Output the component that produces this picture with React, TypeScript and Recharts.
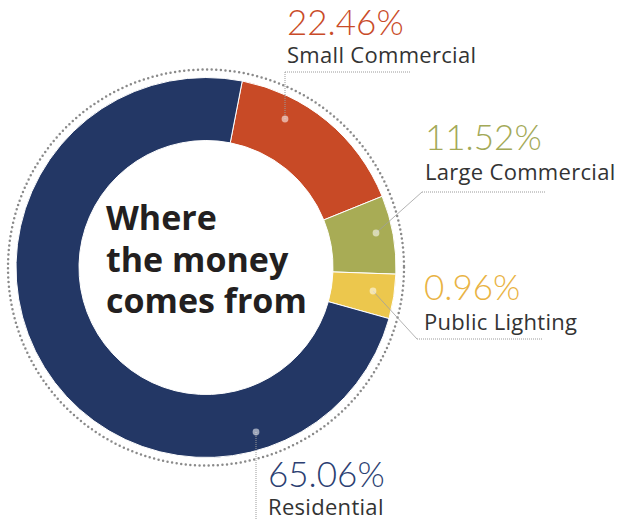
import { PieChart, Pie, Cell, Customized } from "recharts";

// revenue split as printed on the graphic
const segments = ["Small Commercial", "Large Commercial", "Public Lighting", "Residential"];
const printedShare = [22.46, 11.52, 0.96, 65.06];
// arc sizes as drawn (degrees) - the original graphic is not drawn to scale
const drawnArc = [57, 24, 13.6, 265.4];

const sliceColors = ["#C84A26", "#A8AC55", "#ECC74D", "#233765"];
const labelColors = ["#C94B28", "#A3A957", "#E9B343", "#2C3F72"];
const titleLines = ["Where", "the money", "comes from"];

const CX = 206;
const CY = 267.5;

const data = segments.map((name, i) => ({ name, share: printedShare[i], arc: drawnArc[i] }));

// label placement relative to the pie centre
type Leader = {
  dot: [number, number];
  path: [number, number][];
  dashed: boolean[];
  textX: number;
  pctY: number;
  nameY: number;
};

const leaders: Leader[] = [
  { dot: [79, -148.5], path: [[79, -148.5], [79, -195.5], [205, -195.5]], dashed: [true, true], textX: 81, pctY: -232.5, nameY: -204.5 },
  { dot: [170, -34.5], path: [[170, -34.5], [216, -75.5], [339, -75.5]], dashed: [false, true], textX: 219, pctY: -117.5, nameY: -87.5 },
  { dot: [167, 23.5], path: [[167, 23.5], [211, 71.5], [336, 71.5]], dashed: [false, true], textX: 218, pctY: 32.5, nameY: 62.5 },
  { dot: [50, 164.5], path: [[50, 164.5], [50, 262]], dashed: [true], textX: 62, pctY: 219.5, nameY: 247 },
];

function SliceLabel(props: any) {
  const { cx, cy, index } = props;
  const l = leaders[index];
  if (!l) return null;
  return (
    <g>
      {l.path.slice(1).map((p, k) => {
        const a = l.path[k];
        return (
          <line
            key={k}
            x1={cx + a[0]}
            y1={cy + a[1]}
            x2={cx + p[0]}
            y2={cy + p[1]}
            stroke={l.dashed[k] ? "#9a9a9a" : "#a0a0a0"}
            strokeWidth={l.dashed[k] ? 1 : 0.8}
            strokeDasharray={l.dashed[k] ? "1 1" : undefined}
          />
        );
      })}
      <circle cx={cx + l.dot[0]} cy={cy + l.dot[1]} r={3.4} fill="#ffffff" fillOpacity={0.55} />
      <text
        x={cx + l.textX}
        y={cy + l.pctY}
        fill={labelColors[index]}
        fontFamily="Lato, sans-serif"
        fontWeight={300}
        fontSize={35}
      >
        {printedShare[index].toFixed(2)}%
      </text>
      <text
        x={cx + l.textX}
        y={cy + l.nameY}
        fill="#333333"
        fontFamily="'Open Sans', sans-serif"
        fontWeight={400}
        fontSize={22}
        letterSpacing={0.3}
      >
        {segments[index]}
      </text>
    </g>
  );
}

function Centre() {
  return (
    <g>
      <circle
        cx={CX}
        cy={CY}
        r={198}
        fill="none"
        stroke="#8a8a8a"
        strokeWidth={2.5}
        strokeDasharray="0 4.6"
        strokeLinecap="round"
      />
      {titleLines.map((t, i) => (
        <text
          key={t}
          x={CX - 100}
          y={CY - 37.5 + i * 41.5}
          fill="#231F20"
          fontFamily="'Open Sans', sans-serif"
          fontWeight={700}
          fontSize={34}
        >
          {t}
        </text>
      ))}
    </g>
  );
}

export default function App() {
  return (
    <div style={{ position: "absolute", left: 0, top: 0, background: "#fff" }}>
      <PieChart width={619} height={520} margin={{ top: 0, right: 0, bottom: 0, left: 0 }}>
        <Customized component={Centre} />
        <Pie
          data={data}
          dataKey="arc"
          nameKey="name"
          cx={CX}
          cy={CY}
          innerRadius={127}
          outerRadius={190}
          startAngle={79}
          endAngle={-281}
          stroke="#ffffff"
          strokeWidth={1}
          label={SliceLabel}
          labelLine={false}
          isAnimationActive={false}
        >
          {data.map((d, i) => (
            <Cell key={d.name} fill={sliceColors[i]} />
          ))}
        </Pie>
      </PieChart>
    </div>
  );
}
